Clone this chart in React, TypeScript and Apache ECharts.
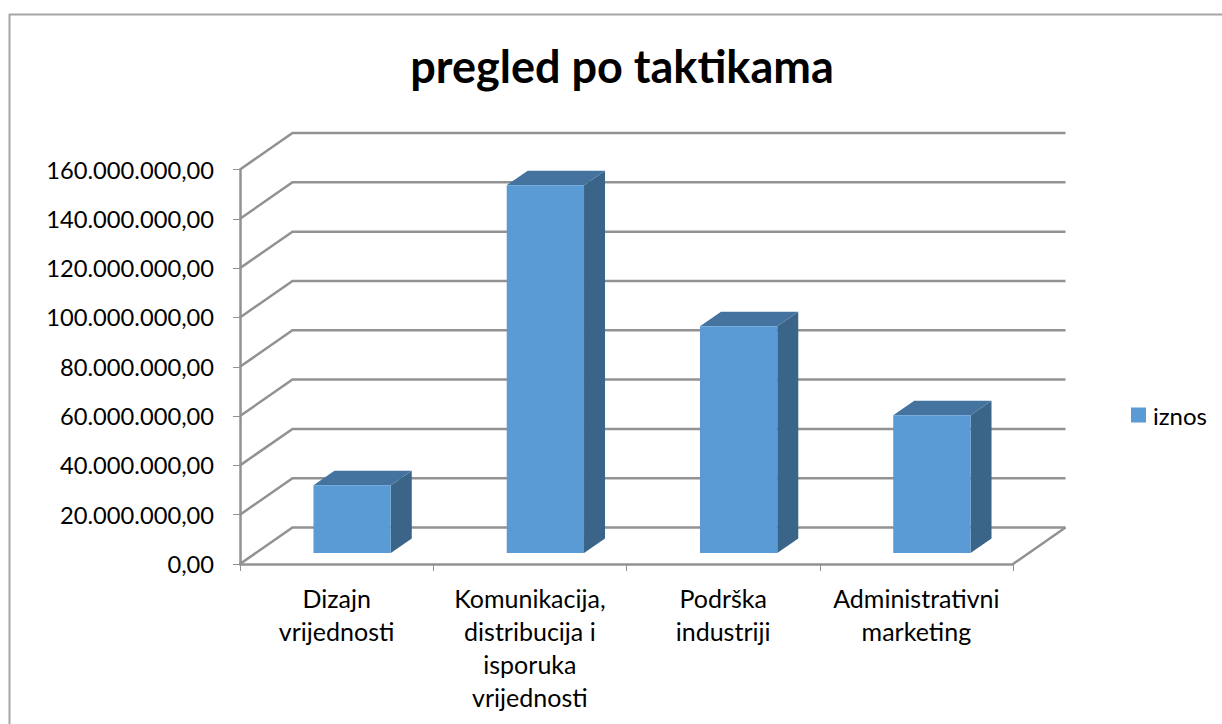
import React, { useEffect, useRef } from "react";
import * as echarts from "echarts";

const titleText = "pregled po taktikama";
const seriesName = "iznos";
const categories = [
  "Dizajn\nvrijednosti",
  "Komunikacija,\ndistribucija i\nisporuka\nvrijednosti",
  "Podrška\nindustriji",
  "Administrativni\nmarketing",
];
const values = [27500000, 149200000, 92000000, 55900000];
const gridTicks = [0, 20000000, 40000000, 60000000, 80000000, 100000000, 120000000, 140000000, 160000000];

const FONT = "Lato, 'Open Sans', sans-serif";
const WALL_DX = 52.5;
const WALL_DY = -36.5;
const BAR_DX = 15.5;
const BAR_DY = -11;
const BAR_DEPTH_X = 21;
const BAR_DEPTH_Y = -14.5;
const GRID_COLOR = "#929292";
const GRID_WIDTH = 2.5;

function formatValue(v: number) {
  const s = Math.round(v).toString().replace(/\B(?=(\d{3})+(?!\d))/g, ".");
  return s + ",00";
}

export default function App() {
  const ref = useRef<HTMLDivElement>(null);
  useEffect(() => {
    if (!ref.current) return;
    const chart = echarts.init(ref.current, undefined, { renderer: "svg" });
    chart.setOption({
      animation: false,
      backgroundColor: "#ffffff",
      title: {
        text: titleText,
        left: 617,
        top: 38,
        textAlign: "center",
        textStyle: { fontFamily: FONT, fontSize: 45, fontWeight: "bold", color: "#000000" },
      },
      legend: {
        data: [{ name: seriesName, icon: "rect" }],
        left: 1131,
        top: 403,
        padding: 0,
        itemWidth: 15,
        itemHeight: 15,
        itemGap: 0,
        textStyle: { fontFamily: FONT, fontSize: 24, color: "#000000", padding: [0, 0, 0, 2] },
      },
      grid: { left: 240, right: 209, top: 169.5, bottom: 160, containLabel: false },
      xAxis: {
        type: "category",
        data: categories,
        axisLine: { show: true, lineStyle: { color: GRID_COLOR, width: GRID_WIDTH } },
        axisTick: { show: true, length: 7, lineStyle: { color: GRID_COLOR, width: 1 } },
        axisLabel: {
          fontFamily: FONT,
          fontSize: 25,
          lineHeight: 33,
          color: "#000000",
          margin: 17,
          interval: 0,
        },
      },
      yAxis: {
        type: "value",
        min: 0,
        max: 160000000,
        interval: 20000000,
        splitLine: { show: false },
        axisLine: { show: true, lineStyle: { color: GRID_COLOR, width: GRID_WIDTH } },
        axisTick: { show: true, length: 7, lineStyle: { color: GRID_COLOR, width: 1 } },
        axisLabel: {
          fontFamily: FONT,
          fontSize: 23.7,
          color: "#000000",
          margin: 26,
          formatter: formatValue,
        },
      },
      graphic: [
        {
          type: "polyline",
          silent: true,
          shape: { points: [[9.5, 724], [9.5, 14.5], [1222, 14.5]] },
          style: { fill: "none", stroke: "#a6a6a6", lineWidth: 2 },
        },
      ],
      series: [
        {
          type: "custom",
          name: "rešetka",
          silent: true,
          z: 1,
          data: gridTicks.map((t) => [0, t]),
          encode: { x: 0, y: 1 },
          renderItem: (params: any, api: any) => {
            const v = api.value(1);
            const y = api.coord([0, v])[1];
            const sys = params.coordSys;
            const x0 = sys.x;
            const x1 = sys.x + sys.width;
            const children: any[] = [
              {
                type: "polyline",
                shape: {
                  points: [
                    [x0, y],
                    [x0 + WALL_DX, y + WALL_DY],
                    [x1 + WALL_DX, y + WALL_DY],
                  ],
                },
                style: { fill: "none", stroke: GRID_COLOR, lineWidth: GRID_WIDTH },
              },
            ];
            if (v === 0) {
              children.push({
                type: "line",
                shape: { x1: x1, y1: y, x2: x1 + WALL_DX, y2: y + WALL_DY },
                style: { stroke: GRID_COLOR, lineWidth: GRID_WIDTH },
              });
            }
            return { type: "group", children };
          },
        },
        {
          type: "custom",
          name: seriesName,
          z: 3,
          itemStyle: { color: "#5b9bd5" },
          data: values.map((v, i) => [i, v]),
          encode: { x: 0, y: 1 },
          renderItem: (_params: any, api: any) => {
            const i = api.value(0);
            const top = api.coord([i, api.value(1)]);
            const base = api.coord([i, 0]);
            const w = api.size([1, 0])[0] * 0.4;
            const l = top[0] + BAR_DX - w / 2;
            const r = l + w;
            const t = top[1] + BAR_DY;
            const b = base[1] + BAR_DY;
            const dx = BAR_DEPTH_X;
            const dy = BAR_DEPTH_Y;
            return {
              type: "group",
              children: [
                {
                  type: "polygon",
                  shape: { points: [[r, t], [r + dx, t + dy], [r + dx, b + dy], [r, b]] },
                  style: { fill: "#3a6589" },
                },
                {
                  type: "polygon",
                  shape: { points: [[l, t], [l + dx, t + dy], [r + dx, t + dy], [r, t]] },
                  style: { fill: "#44739f" },
                },
                {
                  type: "polygon",
                  shape: { points: [[l, t], [r, t], [r, b], [l, b]] },
                  style: { fill: "#5b9bd5" },
                },
              ],
            };
          },
        },
      ],
    });
    return () => chart.dispose();
  }, []);
  return (
    <div
      ref={ref}
      style={{ position: "absolute", left: 0, top: 0, width: 1222, height: 724, background: "#fff" }}
    />
  );
}
